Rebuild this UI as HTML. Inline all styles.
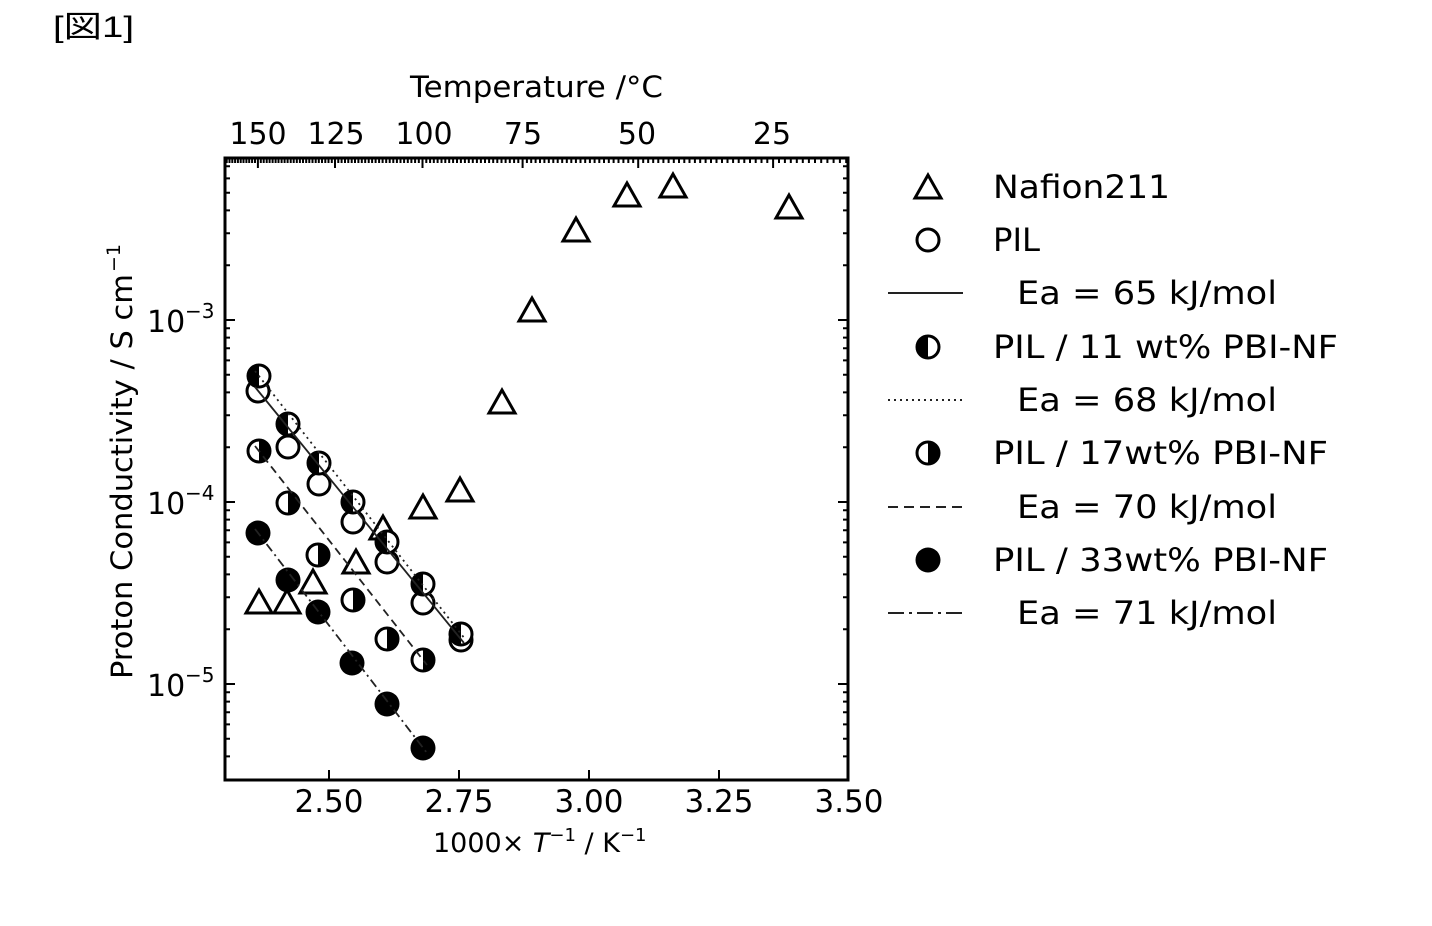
<!DOCTYPE html>
<html>
<head>
<meta charset="utf-8">
<style>
  html,body{margin:0;padding:0;background:#fff;}
  svg{display:block;}
  text{font-family:"DejaVu Sans","Liberation Sans",sans-serif;fill:#000;}
</style>
</head>
<body>
<svg id="chart" xmlns="http://www.w3.org/2000/svg" width="1432" height="926" viewBox="0 0 1432 926">
  <defs>
    <g id="tri"><path d="M0 -12 L-13 11 L13 11 Z" fill="#fff" stroke="#000" stroke-width="3" stroke-linejoin="miter"/></g>
    <g id="open"><circle r="11" fill="#fff" stroke="#000" stroke-width="3"/></g>
    <g id="lf"><circle r="11" fill="#fff"/><path d="M0 -11 A11 11 0 0 0 0 11 Z" fill="#000"/><circle r="11" fill="none" stroke="#000" stroke-width="3"/></g>
    <g id="rf"><circle r="11" fill="#fff"/><path d="M0 -11 A11 11 0 0 1 0 11 Z" fill="#000"/><circle r="11" fill="none" stroke="#000" stroke-width="3"/></g>
    <g id="full"><circle r="12.5" fill="#000"/></g>
  </defs>
  <rect width="1432" height="926" fill="#fff"/>

  <!-- figure tag -->
  <text x="53" y="37" font-size="30" textLength="81" lengthAdjust="spacingAndGlyphs" style="font-family:'Liberation Sans','Noto Sans CJK JP',sans-serif;">[図1]</text>

  <!-- top axis title -->
  <text x="410" y="97" font-size="29" textLength="253" lengthAdjust="spacingAndGlyphs">Temperature /°C</text>

  <!-- top tick labels -->
  <g font-size="30" text-anchor="middle">
    <text x="258" y="144">150</text>
    <text x="336" y="144">125</text>
    <text x="424" y="144">100</text>
    <text x="523" y="144">75</text>
    <text x="637" y="144">50</text>
    <text x="772" y="144">25</text>
  </g>

  <!-- plot frame -->
  <rect x="225" y="158" width="623" height="622" fill="none" stroke="#000" stroke-width="3"/>
  <path id="ticks" d="" stroke="#000" stroke-width="2" fill="none"/>

  <!-- bottom tick labels -->
  <g font-size="31" text-anchor="middle">
    <text x="329" y="812">2.50</text>
    <text x="459" y="812">2.75</text>
    <text x="589" y="812">3.00</text>
    <text x="719" y="812">3.25</text>
    <text x="849" y="812">3.50</text>
  </g>

  <!-- left tick labels -->
  <g font-size="30">
    <text x="147" y="332">10</text><text x="185" y="318" font-size="20">−3</text>
    <text x="147" y="514">10</text><text x="185" y="500" font-size="20">−4</text>
    <text x="147" y="696">10</text><text x="185" y="682" font-size="20">−5</text>
  </g>

  <!-- y axis label -->
  <g transform="translate(132,462) rotate(-90)">
    <text x="-217" y="0" font-size="29" textLength="405" lengthAdjust="spacingAndGlyphs">Proton Conductivity / S cm</text>
    <text x="190" y="-12" font-size="19">−1</text>
  </g>

  <!-- x axis label -->
  <text x="433" y="852" font-size="27">1000× <tspan font-style="italic">T</tspan><tspan dy="-11" font-size="18">−1</tspan><tspan dy="11"> / K</tspan><tspan dy="-11" font-size="18">−1</tspan></text>

  <!-- Nafion211 -->
  <g>
    <use href="#tri" x="259" y="602"/>
    <use href="#tri" x="287" y="602"/>
    <use href="#tri" x="313" y="582"/>
    <use href="#tri" x="356" y="562"/>
    <use href="#tri" x="383" y="528"/>
    <use href="#tri" x="423" y="507"/>
    <use href="#tri" x="460" y="490"/>
    <use href="#tri" x="502" y="402"/>
    <use href="#tri" x="532" y="310"/>
    <use href="#tri" x="576" y="230"/>
    <use href="#tri" x="627" y="195"/>
    <use href="#tri" x="673" y="186"/>
    <use href="#tri" x="789" y="207"/>
  </g>

  <!-- PIL -->
  <g>
    <use href="#open" x="258" y="391"/>
    <use href="#open" x="288" y="447"/>
    <use href="#open" x="319" y="484"/>
    <use href="#open" x="353" y="522"/>
    <use href="#open" x="387" y="562"/>
    <use href="#open" x="423" y="603"/>
    <use href="#open" x="461" y="640"/>
  </g>
  <!-- PIL / 11 wt% -->
  <g>
    <use href="#lf" x="259" y="376"/>
    <use href="#lf" x="288" y="424"/>
    <use href="#lf" x="319" y="463"/>
    <use href="#lf" x="353" y="502"/>
    <use href="#lf" x="387" y="542"/>
    <use href="#lf" x="423" y="584"/>
    <use href="#lf" x="461" y="634"/>
  </g>
  <!-- PIL / 17 wt% -->
  <g>
    <use href="#rf" x="259" y="451"/>
    <use href="#rf" x="288" y="503"/>
    <use href="#rf" x="318" y="555"/>
    <use href="#rf" x="353" y="600"/>
    <use href="#rf" x="387" y="639"/>
    <use href="#rf" x="423" y="660"/>
  </g>
  <!-- PIL / 33 wt% -->
  <g>
    <use href="#full" x="258" y="533"/>
    <use href="#full" x="288" y="580"/>
    <use href="#full" x="318" y="612"/>
    <use href="#full" x="352" y="663"/>
    <use href="#full" x="387" y="704"/>
    <use href="#full" x="423" y="748"/>
  </g>

  <!-- fit lines -->
  <g stroke="#222" stroke-width="1.8" fill="none">
    <line x1="255" y1="387" x2="464" y2="643"/>
    <line x1="255" y1="371" x2="465" y2="639" stroke-dasharray="2 4"/>
    <line x1="255" y1="446" x2="427" y2="665" stroke-dasharray="8 5"/>
    <line x1="255" y1="529" x2="427" y2="753" stroke-dasharray="9 4 2 4"/>
  </g>

  <!-- legend -->
  <use href="#tri" x="928" y="187"/>
  <text x="993" y="198" font-size="32" textLength="177" lengthAdjust="spacingAndGlyphs">Nafion211</text>
  <use href="#open" x="928" y="240"/>
  <text x="993" y="251" font-size="32" textLength="47" lengthAdjust="spacingAndGlyphs">PIL</text>
  <line x1="888" y1="293" x2="963" y2="293" stroke="#222" stroke-width="2"/>
  <text x="1017" y="304" font-size="32" textLength="260" lengthAdjust="spacingAndGlyphs">Ea = 65 kJ/mol</text>
  <use href="#lf" x="928" y="347"/>
  <text x="993" y="358" font-size="32" textLength="345" lengthAdjust="spacingAndGlyphs">PIL / 11 wt% PBI-NF</text>
  <line x1="888" y1="400" x2="963" y2="400" stroke="#222" stroke-width="2" stroke-dasharray="2 4"/>
  <text x="1017" y="411" font-size="32" textLength="260" lengthAdjust="spacingAndGlyphs">Ea = 68 kJ/mol</text>
  <use href="#rf" x="928" y="453"/>
  <text x="993" y="464" font-size="32" textLength="335" lengthAdjust="spacingAndGlyphs">PIL / 17wt% PBI-NF</text>
  <line x1="888" y1="507" x2="963" y2="507" stroke="#222" stroke-width="2" stroke-dasharray="10 6"/>
  <text x="1017" y="518" font-size="32" textLength="260" lengthAdjust="spacingAndGlyphs">Ea = 70 kJ/mol</text>
  <use href="#full" x="928" y="560"/>
  <text x="993" y="571" font-size="32" textLength="335" lengthAdjust="spacingAndGlyphs">PIL / 33wt% PBI-NF</text>
  <line x1="888" y1="613" x2="963" y2="613" stroke="#222" stroke-width="2" stroke-dasharray="16 5 3 5"/>
  <text x="1017" y="624" font-size="32" textLength="260" lengthAdjust="spacingAndGlyphs">Ea = 71 kJ/mol</text>
</svg>
<script>
(function(){
  var X0=225,X1=848,Y0=158,Y1=780;
  function px(v){return 225+(v-2.3)*520;}
  function py(e){return 684-(e+5)*182;}
  var d='';
  [2.5,2.75,3.0,3.25].forEach(function(v){var x=px(v);d+='M'+x.toFixed(1)+' '+Y1+'v-10';});
  for(var T=10;T<=165;T++){
    var x=px(1000/(T+273.15));
    if(x<X0+1||x>X1-1)continue;
    var L=(T%25===0)?10:5;
    d+='M'+x.toFixed(1)+' '+Y0+'v'+L;
  }
  for(var e=-6;e<=-2;e++){
    for(var m=1;m<=9;m++){
      var y=py(e+Math.log10(m));
      if(y<Y0+1||y>Y1-1)continue;
      var L2=(m===1)?10:5;
      d+='M'+X0+' '+y.toFixed(1)+'h'+L2+'M'+X1+' '+y.toFixed(1)+'h'+(-L2);
    }
  }
  document.getElementById('ticks').setAttribute('d',d);
})();
</script>
</body>
</html>
